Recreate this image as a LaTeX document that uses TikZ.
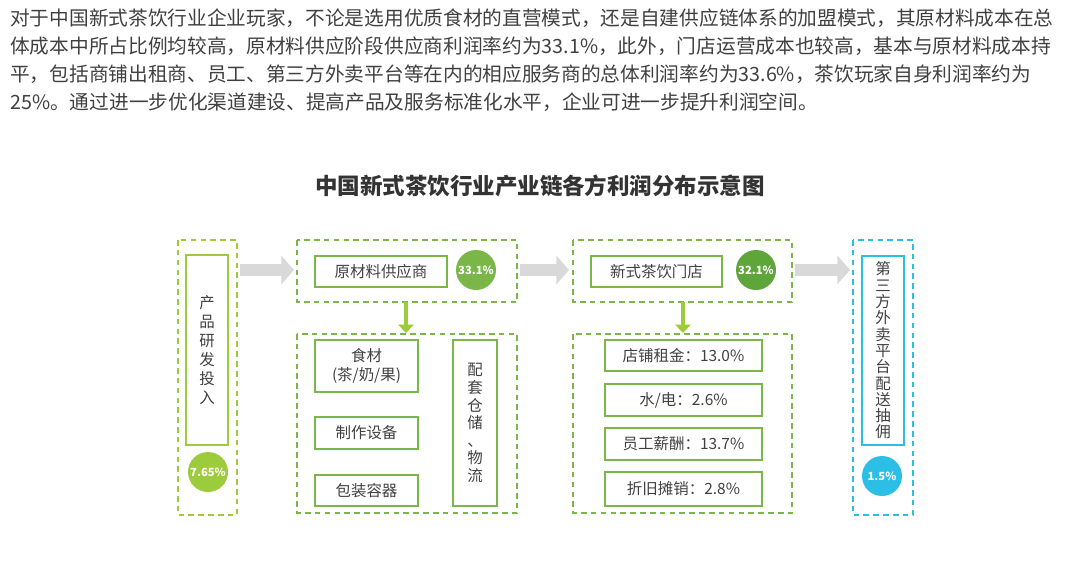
\documentclass[tikz,border=0pt]{standalone}
\usepackage{fontspec}
\setmainfont{Noto Sans CJK SC}
\usetikzlibrary{arrows.meta}
\definecolor{lgreen}{HTML}{9CCB3B}
\definecolor{mgreen}{HTML}{7AB648}
\definecolor{dgreen}{HTML}{5EA53A}
\definecolor{cyanb}{HTML}{2BBFE6}
\definecolor{txt}{HTML}{404040}
\tikzstyle{frame}=[draw=mgreen, dashed, line width=1.2pt, dash pattern=on 4pt off 3pt]
\tikzstyle{item}=[draw=mgreen, line width=1.3pt, text=txt, font=\fontsize{11}{13}\selectfont, align=center, inner sep=0pt]
\tikzstyle{rate}=[circle, text=white, font=\bfseries\fontsize{8}{9}\selectfont, inner sep=0pt, minimum size=1.0cm]
\tikzstyle{flow}=[-{Triangle[length=9pt,width=20pt]}, line width=9pt, draw=black!15]
\tikzstyle{down}=[-{Triangle[length=6pt,width=11pt]}, line width=3.5pt, draw=lgreen]
\tikzstyle{para}=[anchor=west, text=txt, font=\fontsize{14}{16}\selectfont, inner sep=0pt]

\begin{document}
\begin{tikzpicture}[x=0.025cm, y=-0.025cm]
\useasboundingbox (0,0) rectangle (1080,567);
% Text
    \node[para] (l1) at (10,18) {对于中国新式茶饮行业企业玩家，不论是选用优质食材的直营模式，还是自建供应链体系的加盟模式，其原材料成本在总};
    \node[para] (l2) at (10,46) {体成本中所占比例均较高，原材料供应阶段供应商利润率约为33.1\%，此外，门店运营成本也较高，基本与原材料成本持};
    \node[para] (l3) at (10,74) {平，包括商铺出租商、员工、第三方外卖平台等在内的相应服务商的总体利润率约为33.6\%，茶饮玩家自身利润率约为};
    \node[para] (l4) at (10,102) {25\%。通过进一步优化渠道建设、提高产品及服务标准化水平，企业可进一步提升利润空间。};
    \node[font=\bfseries\fontsize{16}{18}\selectfont, text=black!80] (title) at (540,186) {中国新式茶饮行业产业链各方利润分布示意图};
%Frames
    \draw[frame, draw=lgreen] (178,240) rectangle (237,515);
    \draw[frame] (297,240) rectangle (517,302);
    \draw[frame] (297,334) rectangle (517,513);
    \draw[frame] (573,240) rectangle (792,302);
    \draw[frame] (573,334) rectangle (792,513);
    \draw[frame, draw=cyanb] (853,240) rectangle (913,515);
%Research
    \node[item, draw=lgreen, font=\fontsize{11}{13.5}\selectfont, minimum width=42*0.025cm, minimum height=190*0.025cm] (rd) at (207,350) {产\\品\\研\\发\\投\\入};
    \node[rate, fill=lgreen] (rdrate) at (208,472) {7.65\%};
%Supplier
    \node[item, minimum width=132*0.025cm, minimum height=31*0.025cm] (sup) at (381,271.5) {原材料供应商};
    \node[rate, fill=mgreen] (suprate) at (476,270) {33.1\%};
    \node[item, minimum width=103*0.025cm, minimum height=52*0.025cm] (food) at (366.5,366) {食材\\(茶/奶/果)};
    \node[item, minimum width=103*0.025cm, minimum height=32*0.025cm] (equip) at (366.5,433) {制作设备};
    \node[item, minimum width=103*0.025cm, minimum height=31*0.025cm] (pack) at (366.5,490.5) {包装容器};
    \node[item, font=\fontsize{11}{12.5}\selectfont, minimum width=44*0.025cm, minimum height=166*0.025cm] (store) at (475,423) {配\\套\\仓\\储\\、\\物\\流};
%Shop
    \node[item, minimum width=131*0.025cm, minimum height=31*0.025cm] (shop) at (656.5,271.5) {新式茶饮门店};
    \node[rate, fill=dgreen] (shoprate) at (756,270) {32.1\%};
    \node[item, minimum width=157*0.025cm, minimum height=31*0.025cm] (rent) at (683.5,355.5) {店铺租金：13.0\%};
    \node[item, minimum width=157*0.025cm, minimum height=32*0.025cm] (power) at (683.5,400) {水/电：2.6\%};
    \node[item, minimum width=157*0.025cm, minimum height=32*0.025cm] (staff) at (683.5,444) {员工薪酬：13.7\%};
    \node[item, minimum width=157*0.025cm, minimum height=34*0.025cm] (depr) at (683.5,489) {折旧摊销：2.8\%};
%Platform
    \node[item, draw=cyanb, font=\fontsize{11}{11.6}\selectfont, minimum width=42*0.025cm, minimum height=189*0.025cm] (plat) at (883,350.5) {第\\三\\方\\外\\卖\\平\\台\\配\\送\\抽\\佣};
    \node[rate, fill=cyanb] (platrate) at (882,476) {1.5\%};
%Arrows
    \coordinate (a1) at (240,270); \coordinate (b1) at (294,270);
    \coordinate (a2) at (520,270); \coordinate (b2) at (569,270);
    \coordinate (a3) at (795,270); \coordinate (b3) at (850,270);
    \coordinate (d1) at (406,302); \coordinate (e1) at (406,333);
    \coordinate (d2) at (683,302); \coordinate (e2) at (683,333);
    \draw[flow] (a1) -- (b1);
    \draw[flow] (a2) -- (b2);
    \draw[flow] (a3) -- (b3);
    \draw[down] (d1) -- (e1);
    \draw[down] (d2) -- (e2);
\end{tikzpicture}
\end{document}
